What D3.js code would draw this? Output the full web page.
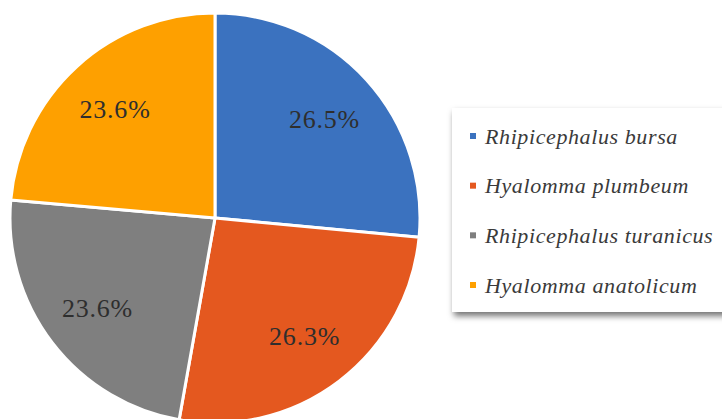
<!DOCTYPE html>
<html><head><meta charset="utf-8">
<script src="https://cdn.jsdelivr.net/npm/d3@7"></script>
<style>body{margin:0;background:#fff;} svg{display:block;}</style>
</head><body>
<svg id="c" width="722" height="419"></svg>
<script>
const categories = ["Rhipicephalus bursa", "Hyalomma plumbeum", "Rhipicephalus turanicus", "Hyalomma anatolicum"];
const values = [26.5, 26.3, 23.6, 23.6];
const labels = ["26.5%", "26.3%", "23.6%", "23.6%"];
const colors = ["#3b72bf", "#e4581f", "#7f7f7f", "#fea000"];

const svg = d3.select("#c");
const cx = 215, cy = 218, R = 205;
const defs = svg.append("defs");
const f = defs.append("filter").attr("id","sh").attr("x","-10%").attr("y","-10%").attr("width","130%").attr("height","130%");
f.append("feDropShadow").attr("dx",2).attr("dy",4).attr("stdDeviation",3).attr("flood-color","#000").attr("flood-opacity",0.55);

const pie = d3.pie().sort(null).value(d => d)(values);
const arc = d3.arc().innerRadius(0).outerRadius(R);
const lab = d3.arc().innerRadius(148).outerRadius(148);
const g = svg.append("g").attr("transform", `translate(${cx},${cy})`);
g.selectAll("path").data(pie).join("path")
  .attr("d", arc).attr("fill", (d,i) => colors[i])
  .attr("stroke", "#fff").attr("stroke-width", 3).attr("stroke-linejoin","round");
g.selectAll("text").data(pie).join("text")
  .attr("transform", d => `translate(${lab.centroid(d)})`)
  .attr("text-anchor","middle").attr("dy","0.35em")
  .attr("font-family","'Liberation Serif','Times New Roman',serif")
  .attr("font-size", 26).attr("letter-spacing", 0.8).attr("fill","#2e2e2e")
  .text((d,i) => labels[i]);

// legend
const lg = svg.append("g");
lg.append("rect").attr("x",452).attr("y",108).attr("width",300).attr("height",204)
  .attr("fill","#fff").attr("filter","url(#sh)");
const ly = d3.scalePoint().domain(categories).range([136, 285]);
const items = lg.selectAll("g.it").data(categories).join("g").attr("class","it")
  .attr("transform", d => `translate(0,${ly(d)})`);
items.append("rect").attr("x",470).attr("y",-3).attr("width",6).attr("height",6)
  .attr("fill",(d,i)=>colors[i]);
items.append("text").attr("x",485).attr("y",0).attr("dy","0.35em")
  .attr("font-family","'Liberation Serif','Times New Roman',serif")
  .attr("font-style","italic").attr("font-size",22).attr("letter-spacing",0.6).attr("fill","#3a3a3a")
  .text(d => d);
</script>
</body></html>
